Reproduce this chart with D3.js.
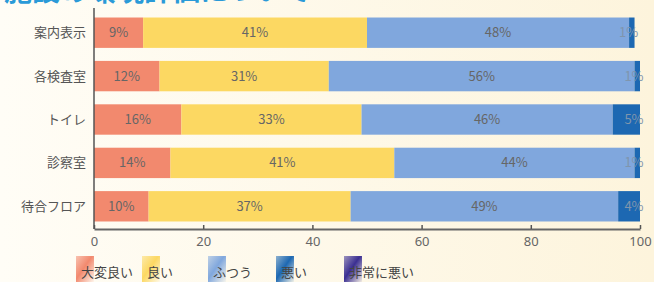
<!DOCTYPE html>
<html>
<head>
<meta charset="utf-8">
<script src="https://cdn.jsdelivr.net/npm/d3@7"></script>
<style>
  body { margin: 0; background: #fff; }
  svg { display: block; font-family: "Noto Sans CJK JP", sans-serif; }
</style>
</head>
<body>
<svg id="chart" width="654" height="282"></svg>
<script>
const categories = ["案内表示", "各検査室", "トイレ", "診察室", "待合フロア"];
const seriesNames = ["大変良い", "良い", "ふつう", "悪い", "非常に悪い"];
const veryGood = [9, 12, 16, 14, 10];
const good = [41, 31, 33, 41, 37];
const normal = [48, 56, 46, 44, 49];
const bad = [1, 1, 5, 1, 4];
const veryBad = [0, 0, 0, 0, 0];
const xTicks = [0, 20, 40, 60, 80, 100];

const colors = ["#f2896e", "#fcd862", "#80a7dd", "#1d68b2", "#3b2f92"];

const svg = d3.select("#chart");
const W = 654, H = 282;
const margin = { top: 17, right: 16, bottom: 60, left: 94 };
const width = 640 - margin.left;

const defs = svg.append("defs");
const bg = defs.append("linearGradient").attr("id", "bg").attr("x1", 0).attr("x2", 1);
bg.append("stop").attr("offset", "0%").attr("stop-color", "#fffdf6");
bg.append("stop").attr("offset", "100%").attr("stop-color", "#fdf4dc");
svg.append("rect").attr("width", W).attr("height", H).attr("fill", "url(#bg)");

// title, cut off at the top like in the scan
svg.append("text")
  .attr("x", 4).attr("y", 1)
  .attr("fill", "#2a9ad8")
  .attr("font-size", 28)
  .attr("font-weight", "bold")
  .text("施設の環境評価について");

const rows = categories.map((c, i) => ({
  cat: c,
  vals: [veryGood[i], good[i], normal[i], bad[i], veryBad[i]]
}));

const x = d3.scaleLinear().domain([0, 100]).range([margin.left, margin.left + width]);
const y = d3.scaleBand().domain(categories).range([margin.top - 6, 228]).paddingInner(0.3).paddingOuter(0.15);

const g = svg.append("g");

rows.forEach((r) => {
  let acc = 0;
  r.vals.forEach((v, k) => {
    if (v <= 0) { return; }
    const x0 = x(acc), x1 = x(acc + v);
    g.append("rect")
      .attr("x", x0).attr("y", y(r.cat))
      .attr("width", x1 - x0).attr("height", y.bandwidth())
      .attr("fill", colors[k]);
    g.append("text")
      .attr("x", k === 3 ? x1 - 6 : (x0 + x1) / 2)
      .attr("y", y(r.cat) + y.bandwidth() / 2)
      .attr("dy", "0.35em")
      .attr("text-anchor", "middle")
      .attr("font-size", 13)
      .attr("fill", k === 3 ? "#7f95ad" : "#666")
      .text(v + "%");
    acc += v;
  });
});

// category labels
svg.append("g").selectAll("text").data(categories).join("text")
  .attr("x", 86)
  .attr("y", (d) => y(d) + y.bandwidth() / 2)
  .attr("dy", "0.35em")
  .attr("text-anchor", "end")
  .attr("font-size", 13)
  .attr("fill", "#555")
  .text((d) => d);

// left axis line
svg.append("line")
  .attr("x1", margin.left).attr("x2", margin.left)
  .attr("y1", 8).attr("y2", 229)
  .attr("stroke", "#555").attr("stroke-width", 1.5);

// x axis
const xAxis = svg.append("g")
  .attr("transform", "translate(0,229)")
  .call(d3.axisBottom(x).tickValues(xTicks).tickSizeOuter(0).tickSizeInner(-4).tickPadding(8));
xAxis.select(".domain").attr("stroke", "#666").attr("stroke-width", 2);
xAxis.selectAll(".tick line").attr("stroke", "#555").attr("stroke-width", 1.5);
xAxis.selectAll(".tick text")
  .attr("font-size", 13).attr("fill", "#666")
  .attr("font-family", "Noto Sans, sans-serif");

// legend
const legendX = [76, 142, 208, 276, 344];
seriesNames.forEach((name, k) => {
  const gid = "lg" + k;
  const lg = defs.append("linearGradient").attr("id", gid)
    .attr("x1", 0).attr("y1", 0).attr("x2", 1).attr("y2", 1);
  lg.append("stop").attr("offset", "0%").attr("stop-color", colors[k]).attr("stop-opacity", 0.5);
  lg.append("stop").attr("offset", "45%").attr("stop-color", colors[k]).attr("stop-opacity", 1);
  lg.append("stop").attr("offset", "100%").attr("stop-color", colors[k]).attr("stop-opacity", 0.05);
  svg.append("rect")
    .attr("x", legendX[k]).attr("y", 256)
    .attr("width", 18).attr("height", 26)
    .attr("fill", "url(#" + gid + ")");
  svg.append("text")
    .attr("x", legendX[k] + 5).attr("y", 277)
    .attr("font-size", 13).attr("fill", "#444")
    .text(name);
});
</script>
</body>
</html>
